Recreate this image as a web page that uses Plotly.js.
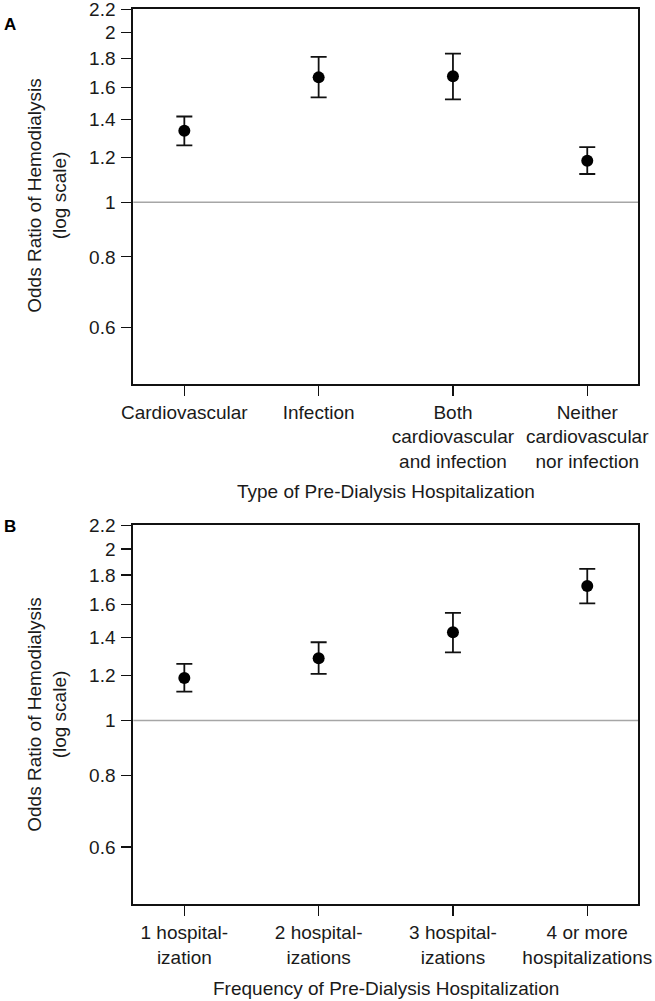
<!DOCTYPE html>
<html>
<head>
<meta charset="utf-8">
<script src="https://cdn.plot.ly/plotly-3.0.1.min.js"></script>
<style>html,body{margin:0;padding:0;background:#fff;}#chart{width:655px;height:1001px;}</style>
</head>
<body>
<div id="chart"></div>
<script>
// Panel A: type of pre-dialysis hospitalization
const categoriesA = ["Cardiovascular", "Infection", "Both<br>cardiovascular<br>and infection", "Neither<br>cardiovascular<br>nor infection"];
const orA    = [1.339, 1.665, 1.672, 1.185];
const upperA = [1.419, 1.811, 1.834, 1.252];
const lowerA = [1.261, 1.535, 1.522, 1.122];

// Panel B: frequency of pre-dialysis hospitalization
const categoriesB = ["1 hospital-<br>ization", "2 hospital-<br>izations", "3 hospital-<br>izations", "4 or more<br>hospitalizations"];
const orB    = [1.188, 1.286, 1.428, 1.722];
const upperB = [1.257, 1.372, 1.545, 1.845];
const lowerB = [1.124, 1.207, 1.317, 1.605];

const yTickVals = [0.6, 0.8, 1, 1.2, 1.4, 1.6, 1.8, 2, 2.2];
const yTickText = ["0.6", "0.8", "1", "1.2", "1.4", "1.6", "1.8", "2", "2.2"];
const yRange = [0.476, 2.203];

const FONT = "Liberation Sans, Arial, Helvetica, sans-serif";
const TXT = "#1a1a1a";

function mkTrace(cats, ors, up, lo, xa, ya) {
  return {
    type: "scatter", mode: "markers",
    x: cats, y: ors, xaxis: xa, yaxis: ya,
    marker: {color: "#000", size: 12},
    error_y: {
      type: "data", symmetric: false,
      array: up.map((u, i) => u - ors[i]),
      arrayminus: lo.map((l, i) => ors[i] - l),
      color: "#111", thickness: 1.8, width: 8
    },
    hoverinfo: "x+y", showlegend: false
  };
}

const xBase = {
  type: "category", range: [-0.38, 3.38],
  showline: true, mirror: true, linecolor: "#111", linewidth: 2,
  ticks: "outside", ticklen: 10, tickwidth: 1.2, tickcolor: "#111",
  showgrid: false, zeroline: false, automargin: false,
  tickfont: {family: FONT, size: 19, color: TXT},
  ticklabelstandoff: 0, ticklabeloverflow: "allow",
  domain: [0.2035, 0.9745]
};
const yBase = {
  type: "log", range: [Math.log10(yRange[0]), Math.log10(yRange[1])],
  tickmode: "array", tickvals: yTickVals, ticktext: yTickText,
  showline: true, mirror: true, linecolor: "#111", linewidth: 2,
  ticks: "outside", ticklen: 10, tickwidth: 1.2, tickcolor: "#111",
  showgrid: false, zeroline: false, automargin: false,
  tickfont: {family: FONT, size: 19, color: TXT},
  ticklabelstandoff: 2, ticklabeloverflow: "allow"
};

const layout = {
  width: 655, height: 1001,
  margin: {l: 0, r: 0, t: 0, b: 0},
  paper_bgcolor: "#fff", plot_bgcolor: "#fff",
  font: {family: FONT, color: TXT},
  xaxis: Object.assign({}, xBase, {anchor: "y", categoryorder: "array", categoryarray: categoriesA}),
  yaxis: Object.assign({}, yBase, {anchor: "x", domain: [0.6164, 0.9912]}),
  xaxis2: Object.assign({}, xBase, {anchor: "y2", categoryorder: "array", categoryarray: categoriesB}),
  yaxis2: Object.assign({}, yBase, {anchor: "x2", domain: [0.0966, 0.4755]}),
  shapes: [
    {type: "line", layer: "below", xref: "x domain", yref: "y", x0: 0, x1: 1, y0: 1, y1: 1,
     line: {color: "#a6a6a6", width: 1.5}},
    {type: "line", layer: "below", xref: "x2 domain", yref: "y2", x0: 0, x1: 1, y0: 1, y1: 1,
     line: {color: "#a6a6a6", width: 1.5}}
  ],
  annotations: [
    {text: "<b>A</b>", xref: "paper", yref: "paper", x: 0.003, y: 0.976, xanchor: "left", yanchor: "middle",
     showarrow: false, font: {family: FONT, size: 17, color: "#000"}},
    {text: "<b>B</b>", xref: "paper", yref: "paper", x: 0.003, y: 0.4745, xanchor: "left", yanchor: "middle",
     showarrow: false, font: {family: FONT, size: 17, color: "#000"}},
    {text: "Odds Ratio of Hemodialysis<br>(log scale)", xref: "paper", yref: "paper", x: 0.0718, y: 0.8045,
     xanchor: "center", yanchor: "middle", textangle: -90, showarrow: false,
     font: {family: FONT, size: 19, color: TXT}},
    {text: "Odds Ratio of Hemodialysis<br>(log scale)", xref: "paper", yref: "paper", x: 0.0718, y: 0.286,
     xanchor: "center", yanchor: "middle", textangle: -90, showarrow: false,
     font: {family: FONT, size: 19, color: TXT}},
    {text: "Type of Pre-Dialysis Hospitalization", xref: "paper", yref: "paper", x: 0.589, y: 0.5088,
     xanchor: "center", yanchor: "middle", showarrow: false,
     font: {family: FONT, size: 19, color: TXT}},
    {text: "Frequency of Pre-Dialysis Hospitalization", xref: "paper", yref: "paper", x: 0.589, y: 0.0127,
     xanchor: "center", yanchor: "middle", showarrow: false,
     font: {family: FONT, size: 19, color: TXT}}
  ]
};

Plotly.newPlot("chart", [
  mkTrace(categoriesA, orA, upperA, lowerA, "x", "y"),
  mkTrace(categoriesB, orB, upperB, lowerB, "x2", "y2")
], layout, {displayModeBar: false, staticPlot: true});
</script>
</body>
</html>
